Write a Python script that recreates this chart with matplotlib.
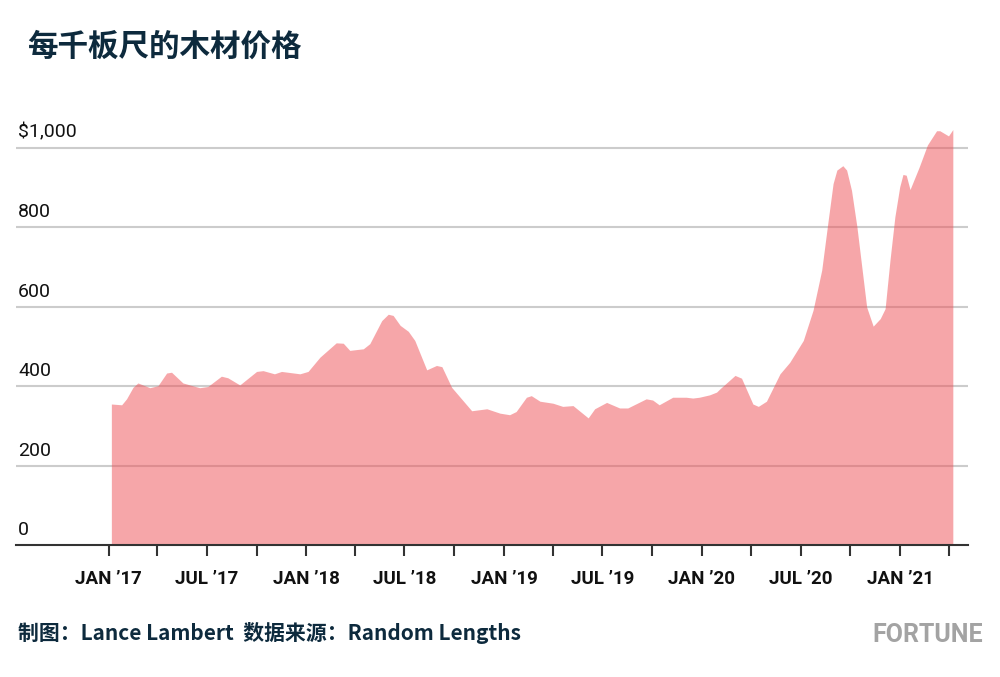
"""
Lumber price per thousand board feet, Jan 2017 - Apr 2021.
"""
import matplotlib.pyplot as plt
import pandas as pd

dates = [
    "2017-01-06", "2017-01-25", "2017-02-03", "2017-02-15", "2017-02-24",
    "2017-03-18", "2017-04-02", "2017-04-18", "2017-04-27", "2017-05-18",
    "2017-06-18", "2017-07-03", "2017-07-28", "2017-08-09", "2017-08-31",
    "2017-10-01", "2017-10-13", "2017-11-03", "2017-11-16", "2017-12-20",
    "2018-01-04", "2018-01-26", "2018-02-25", "2018-03-10", "2018-03-22",
    "2018-04-16", "2018-04-28", "2018-05-20", "2018-06-01", "2018-06-10",
    "2018-06-23", "2018-07-08", "2018-07-20", "2018-08-11", "2018-08-29",
    "2018-09-08", "2018-09-26", "2018-11-02", "2018-11-30", "2018-12-24",
    "2019-01-11", "2019-01-23", "2019-02-11", "2019-02-20", "2019-03-08",
    "2019-04-01", "2019-04-19", "2019-05-08", "2019-06-05", "2019-06-17",
    "2019-07-09", "2019-08-02", "2019-08-17", "2019-09-20", "2019-10-02",
    "2019-10-14", "2019-11-08", "2019-12-03", "2019-12-15", "2019-12-27",
    "2020-01-15", "2020-01-28", "2020-02-03", "2020-03-02", "2020-03-14",
    "2020-04-04", "2020-04-14", "2020-04-29", "2020-05-24", "2020-06-11",
    "2020-07-06", "2020-07-24", "2020-08-09", "2020-08-21", "2020-08-30",
    "2020-09-06", "2020-09-17", "2020-09-24", "2020-10-03", "2020-10-13",
    "2020-10-22", "2020-10-31", "2020-11-12", "2020-11-25", "2020-12-04",
    "2020-12-13", "2020-12-22", "2020-12-31", "2021-01-06", "2021-01-12",
    "2021-01-19", "2021-02-05", "2021-02-20", "2021-03-09", "2021-03-15",
    "2021-03-31", "2021-04-08",
]
prices = [
    355, 353, 368, 397, 408,
    396, 401, 433, 435, 408,
    396, 399, 425, 421, 403,
    437, 439, 431, 437, 431,
    437, 473, 509, 508, 490,
    494, 507, 565, 581, 578,
    553, 538, 515, 441, 452,
    449, 397, 338, 343, 332,
    328, 336, 372, 376, 362,
    357, 349, 351, 320, 343,
    359, 345, 345, 368, 365,
    353, 372, 372, 370, 372,
    378, 385, 393, 427, 420,
    355, 349, 362, 431, 460,
    515, 591, 692, 818, 910,
    944, 955, 944, 893, 801,
    700, 599, 551, 570, 595,
    717, 826, 902, 933, 931,
    895, 952, 1007, 1043, 1043,
    1030, 1046,
]

y_ticks = [0, 200, 400, 600, 800, 1000]
y_labels = ["0", "200", "400", "600", "800", "$1,000"]
tick_dates = pd.date_range("2017-01-01", "2021-04-01", freq="QS")
label_dates = pd.date_range("2017-01-01", "2021-01-01", freq="6MS")

NAVY = "#0d2a3d"
x = pd.to_datetime(dates)

fig = plt.figure(figsize=(10, 6.77), dpi=100)
ax = fig.add_axes([0.016, 1 - 545 / 677, 0.952, (545 - 124) / 677])

for v in y_ticks[1:]:
    ax.axhline(v, color="#cccccc", lw=1.5, zorder=1)
ax.fill_between(x, prices, 0, color="#ee4f55", alpha=0.5, lw=0, zorder=2)

ax.set_ylim(0, 1060)
ax.set_xlim(pd.Timestamp("2016-07-14"), pd.Timestamp("2021-05-06"))
for s in ("top", "right", "left"):
    ax.spines[s].set_visible(False)
ax.spines["bottom"].set_color("#333333")
ax.spines["bottom"].set_linewidth(1.5)
ax.spines["bottom"].set_zorder(3)
ax.set_yticks([])

ax.set_xticks(tick_dates)
ax.set_xticklabels([
    d.strftime("%b ’%y").upper() if d in label_dates else "" for d in tick_dates
])
ax.tick_params(axis="x", length=8, width=1.5, color="#333333", pad=10)
for lbl in ax.get_xticklabels():
    lbl.set_family("Roboto")
    lbl.set_fontweight("bold")
    lbl.set_fontsize(13.5)
    lbl.set_color("#111111")

for v, t in zip(y_ticks, y_labels):
    ax.annotate(t, (0, v), xycoords=("axes fraction", "data"),
                xytext=(2, 6), textcoords="offset pixels",
                fontsize=14, family="Roboto", color="#111111", va="bottom")

fig.text(0.027, 1 - 47 / 677, "每千板尺的木材价格", fontsize=22,
         family="Noto Sans CJK SC", fontweight="bold", color=NAVY, va="center")
fig.text(0.018, 1 - 633 / 677, "制图：Lance Lambert  数据来源：Random Lengths",
         fontsize=15, family=["Noto Sans CJK SC", "DejaVu Sans"],
         fontweight="bold", color=NAVY, va="center")
fig.text(0.983, 1 - 635 / 677, "FORTUNE", fontsize=18,
         family="Roboto", fontweight="bold",
         color="#a3a3a3", ha="right", va="center")

fig.savefig("out.png", dpi=100)
